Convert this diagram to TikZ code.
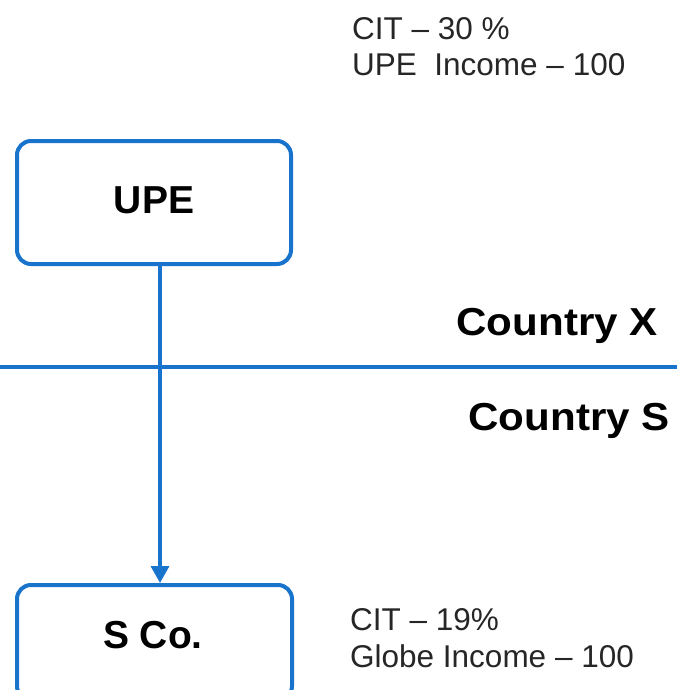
\documentclass[tikz,border=0pt]{standalone}
\usepackage{fontspec}
\setmainfont{Liberation Sans}
\usetikzlibrary{arrows.meta}
\definecolor{lineblue}{RGB}{24,115,204}
\definecolor{textgray}{HTML}{262626}
\tikzset{
  entity/.style={draw=lineblue, line width=4pt, rounded corners=14pt, fill=white},
  boldlabel/.style={font=\bfseries\fontsize{39}{44}\selectfont, text=black, inner sep=0pt},
  notelabel/.style={font=\fontsize{31.5}{36}\selectfont, text=textgray, inner sep=0pt, anchor=base west},
  flow/.style={draw=lineblue, line width=3.4pt, -{Triangle[length=17pt,width=18pt]}},
  border/.style={draw=lineblue, line width=4pt}
}
\begin{document}
\begin{tikzpicture}[x=1pt,y=-1pt]
  \useasboundingbox (0,0) rectangle (677,690);

  % country border
  \coordinate (bl) at (0,367);
  \coordinate (br) at (677,367);
  \draw[border] (bl) -- (br);

  % entities
  \draw[entity] (17,141) rectangle (291,264);
  \node[boldlabel, anchor=base] (upe) at (154,213) {UPE};
  \coordinate (upebot) at (160,266);

  \draw[entity] (17,585) rectangle (292,700);
  \node[boldlabel, anchor=base] (sco) at (153,648) {S Co.};
  \coordinate (scotop) at (160,583);

  % ownership
  \draw[flow] (upebot) -- (scotop);

  % jurisdictions
  \node[boldlabel, anchor=base east] (cx) at (658,335) {\scalebox{1.08}[1]{Country X}};
  \node[boldlabel, anchor=base east] (cs) at (670,430) {\scalebox{1.08}[1]{Country S}};

  % tax notes
  \node[notelabel] (n1) at (352,40) {CIT -- 30 \%};
  \node[notelabel] (n2) at (352,76) {UPE\ \ Income -- 100};
  \node[notelabel] (n3) at (350,630) {CIT -- 19\%};
  \node[notelabel] (n4) at (350,667) {Globe Income -- 100};
\end{tikzpicture}
\end{document}
